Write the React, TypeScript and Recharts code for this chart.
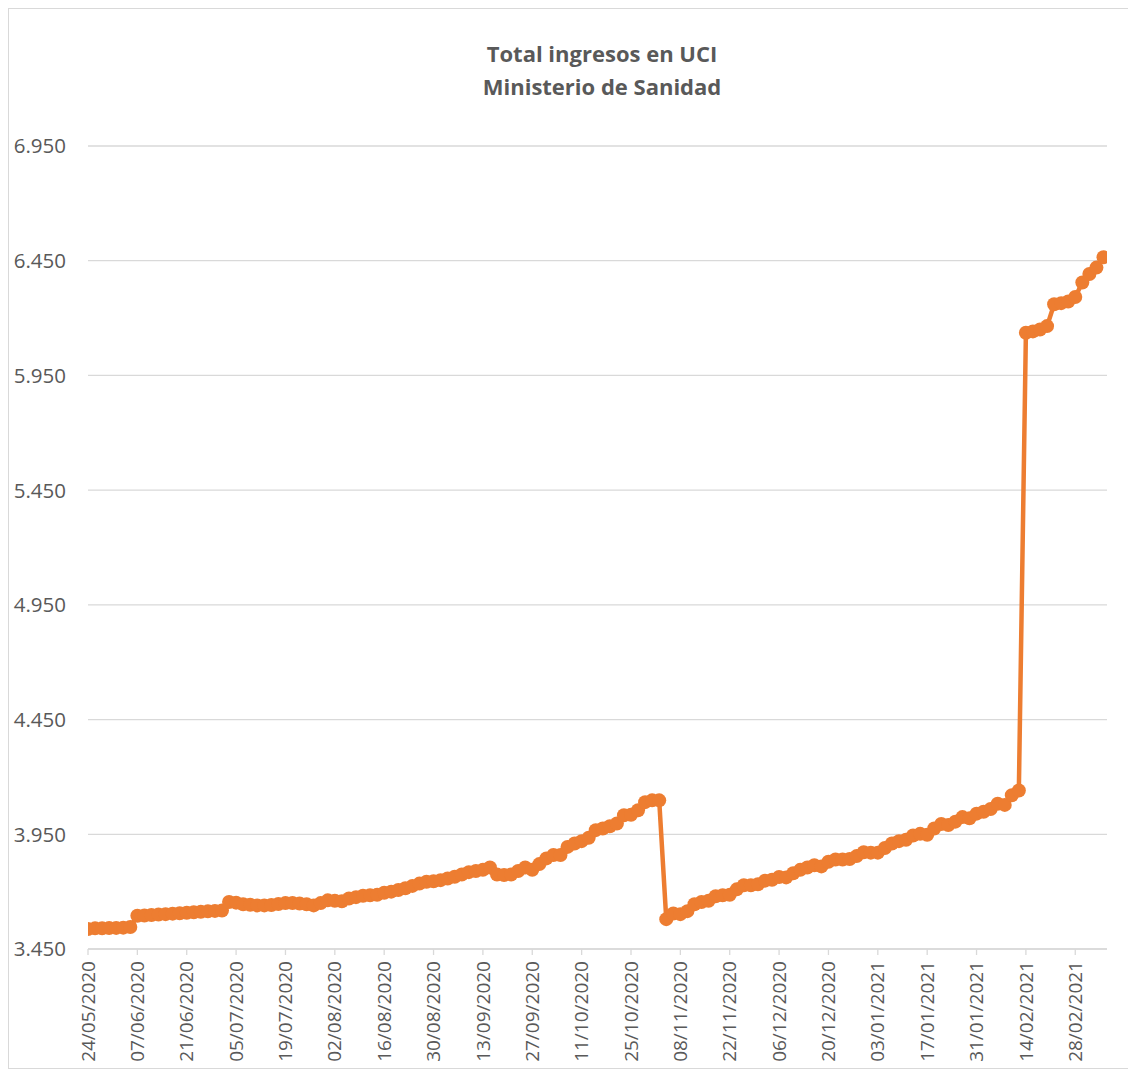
import React from "react";
import { LineChart, Line, XAxis, YAxis, CartesianGrid } from "recharts";

const titleLines = ["Total ingresos en UCI", "Ministerio de Sanidad"];

const dates = [
  "24/05/2020", "26/05/2020", "28/05/2020", "30/05/2020",
  "01/06/2020", "03/06/2020", "05/06/2020", "07/06/2020", "09/06/2020", "11/06/2020", "13/06/2020", "15/06/2020",
  "17/06/2020", "19/06/2020", "21/06/2020", "23/06/2020", "25/06/2020", "27/06/2020", "29/06/2020",
  "01/07/2020", "03/07/2020", "05/07/2020", "07/07/2020", "09/07/2020", "11/07/2020", "13/07/2020", "15/07/2020",
  "17/07/2020", "19/07/2020", "21/07/2020", "23/07/2020", "25/07/2020", "27/07/2020", "29/07/2020", "31/07/2020",
  "02/08/2020", "04/08/2020", "06/08/2020", "08/08/2020", "10/08/2020", "12/08/2020", "14/08/2020", "16/08/2020",
  "18/08/2020", "20/08/2020", "22/08/2020", "24/08/2020", "26/08/2020", "28/08/2020", "30/08/2020",
  "01/09/2020", "03/09/2020", "05/09/2020", "07/09/2020", "09/09/2020", "11/09/2020", "13/09/2020", "15/09/2020",
  "17/09/2020", "19/09/2020", "21/09/2020", "23/09/2020", "25/09/2020", "27/09/2020", "29/09/2020",
  "01/10/2020", "03/10/2020", "05/10/2020", "07/10/2020", "09/10/2020", "11/10/2020", "13/10/2020", "15/10/2020",
  "17/10/2020", "19/10/2020", "21/10/2020", "23/10/2020", "25/10/2020", "27/10/2020", "29/10/2020", "31/10/2020",
  "02/11/2020", "04/11/2020", "06/11/2020", "08/11/2020", "10/11/2020", "12/11/2020", "14/11/2020", "16/11/2020",
  "18/11/2020", "20/11/2020", "22/11/2020", "24/11/2020", "26/11/2020", "28/11/2020", "30/11/2020",
  "02/12/2020", "04/12/2020", "06/12/2020", "08/12/2020", "10/12/2020", "12/12/2020", "14/12/2020", "16/12/2020",
  "18/12/2020", "20/12/2020", "22/12/2020", "24/12/2020", "26/12/2020", "28/12/2020", "30/12/2020",
  "01/01/2021", "03/01/2021", "05/01/2021", "07/01/2021", "09/01/2021", "11/01/2021", "13/01/2021", "15/01/2021",
  "17/01/2021", "19/01/2021", "21/01/2021", "23/01/2021", "25/01/2021", "27/01/2021", "29/01/2021", "31/01/2021",
  "02/02/2021", "04/02/2021", "06/02/2021", "08/02/2021", "10/02/2021", "12/02/2021", "14/02/2021", "16/02/2021",
  "18/02/2021", "20/02/2021", "22/02/2021", "24/02/2021", "26/02/2021", "28/02/2021",
  "02/03/2021", "04/03/2021", "06/03/2021", "08/03/2021",
];

const ingresosUCI = [
  3537, 3540, 3540, 3541,
  3542, 3543, 3546, 3595, 3596, 3598, 3600, 3602,
  3604, 3606, 3608, 3610, 3612, 3614, 3616,
  3618, 3655, 3652, 3645, 3643, 3640, 3640, 3642,
  3646, 3650, 3650, 3648, 3645, 3640, 3650, 3662,
  3660, 3658, 3670, 3676, 3682, 3684, 3686, 3695,
  3700, 3707, 3715, 3725, 3735, 3743, 3745,
  3750, 3757, 3765, 3775, 3785, 3790, 3795, 3805,
  3775, 3772, 3775, 3790, 3805, 3795, 3820,
  3845, 3860, 3860, 3895, 3910, 3920, 3935, 3968,
  3975, 3985, 3997, 4033, 4035, 4055, 4090, 4098,
  4098, 3580, 3605, 3602, 3615, 3645, 3655, 3660,
  3680, 3684, 3686, 3710, 3728, 3728, 3732,
  3748, 3752, 3764, 3762, 3780, 3795, 3805, 3815,
  3810, 3830, 3840, 3840, 3842, 3855, 3872,
  3870, 3870, 3890, 3910, 3920, 3926, 3945, 3952,
  3948, 3975, 3995, 3990, 4005, 4025, 4020, 4040,
  4048, 4060, 4083, 4078, 4120, 4141, 6136, 6142,
  6150, 6165, 6260, 6265, 6272, 6292,
  6355, 6392, 6420, 6465,
];

const xTickLabels = [
  "24/05/2020", "07/06/2020", "21/06/2020", "05/07/2020", "19/07/2020", "02/08/2020", "16/08/2020",
  "30/08/2020", "13/09/2020", "27/09/2020", "11/10/2020", "25/10/2020", "08/11/2020", "22/11/2020",
  "06/12/2020", "20/12/2020", "03/01/2021", "17/01/2021", "31/01/2021", "14/02/2021", "28/02/2021",
];
const axisStart = "24/05/2020";
const axisEnd = "09/03/2021";
const yTicks = [3450, 3950, 4450, 4950, 5450, 5950, 6450, 6950];

const toTs = (s: string) => {
  const [d, m, y] = s.split("/").map(Number);
  return Date.UTC(y, m - 1, d);
};
const pad = (n: number) => String(n).padStart(2, "0");
const fmtDate = (t: number) => {
  const dt = new Date(t);
  return `${pad(dt.getUTCDate())}/${pad(dt.getUTCMonth() + 1)}/${dt.getUTCFullYear()}`;
};
const fmtNum = (v: number) => `${Math.floor(v / 1000)}.${String(v % 1000).padStart(3, "0")}`;

const data = dates.map((d, i) => ({ t: toTs(d), v: ingresosUCI[i] }));

const TEXT = "#595959";
const GRID = "#d9d9d9";
const ORANGE = "#ED7D31";
const FONT = "'Open Sans', sans-serif";

const XTick = (props: any) => {
  const { x, y, payload } = props;
  return (
    <text
      x={0}
      y={0}
      transform={`translate(${x},${y + 4}) rotate(-90)`}
      textAnchor="end"
      dy="0.35em"
      fill={TEXT}
      fontSize={19}
      fontFamily={FONT}
    >
      {fmtDate(payload.value)}
    </text>
  );
};

const YTick = (props: any) => {
  const { y, payload } = props;
  return (
    <text x={58} y={y} dy="0.36em" textAnchor="end" fill={TEXT} fontSize={20.5} fontFamily={FONT}>
      {fmtNum(payload.value)}
    </text>
  );
};

export default function App() {
  return (
    <div
      style={{
        position: "relative",
        width: 1121,
        height: 1061,
        boxSizing: "border-box",
        border: `1px solid ${GRID}`,
        background: "#fff",
      }}
    >
      <div
        style={{
          position: "absolute",
          left: 302 - 9,
          top: 37 - 9,
          width: 600,
          textAlign: "center",
          fontFamily: FONT,
          fontWeight: 700,
          fontSize: 22,
          lineHeight: "33px",
          color: TEXT,
          zIndex: 2,
        }}
      >
        {titleLines.map((l) => (
          <div key={l}>{l}</div>
        ))}
      </div>
      <div style={{ position: "absolute", left: -1, top: -1 }}>
        <LineChart width={1120} height={1060} data={data} margin={{ top: 138, right: 21, bottom: 0, left: 0 }}>
          <CartesianGrid vertical={false} stroke={GRID} strokeWidth={1.3} />
          <XAxis
            type="number"
            dataKey="t"
            domain={[toTs(axisStart), toTs(axisEnd)]}
            ticks={xTickLabels.map(toTs)}
            interval={0}
            height={119}
            tick={<XTick />}
            tickSize={6}
            tickLine={{ stroke: GRID, strokeWidth: 1.3 }}
            axisLine={{ stroke: GRID, strokeWidth: 1.3 }}
            allowDataOverflow
          />
          <YAxis
            type="number"
            domain={[3450, 6950]}
            ticks={yTicks}
            interval={0}
            width={80}
            axisLine={false}
            tickLine={false}
            tick={<YTick />}
            allowDataOverflow
          />
          <Line
            type="linear"
            dataKey="v"
            stroke={ORANGE}
            strokeWidth={4.5}
            dot={{ r: 7, fill: ORANGE, stroke: ORANGE, strokeWidth: 0 }}
            activeDot={false}
            isAnimationActive={false}
          />
        </LineChart>
      </div>
    </div>
  );
}
